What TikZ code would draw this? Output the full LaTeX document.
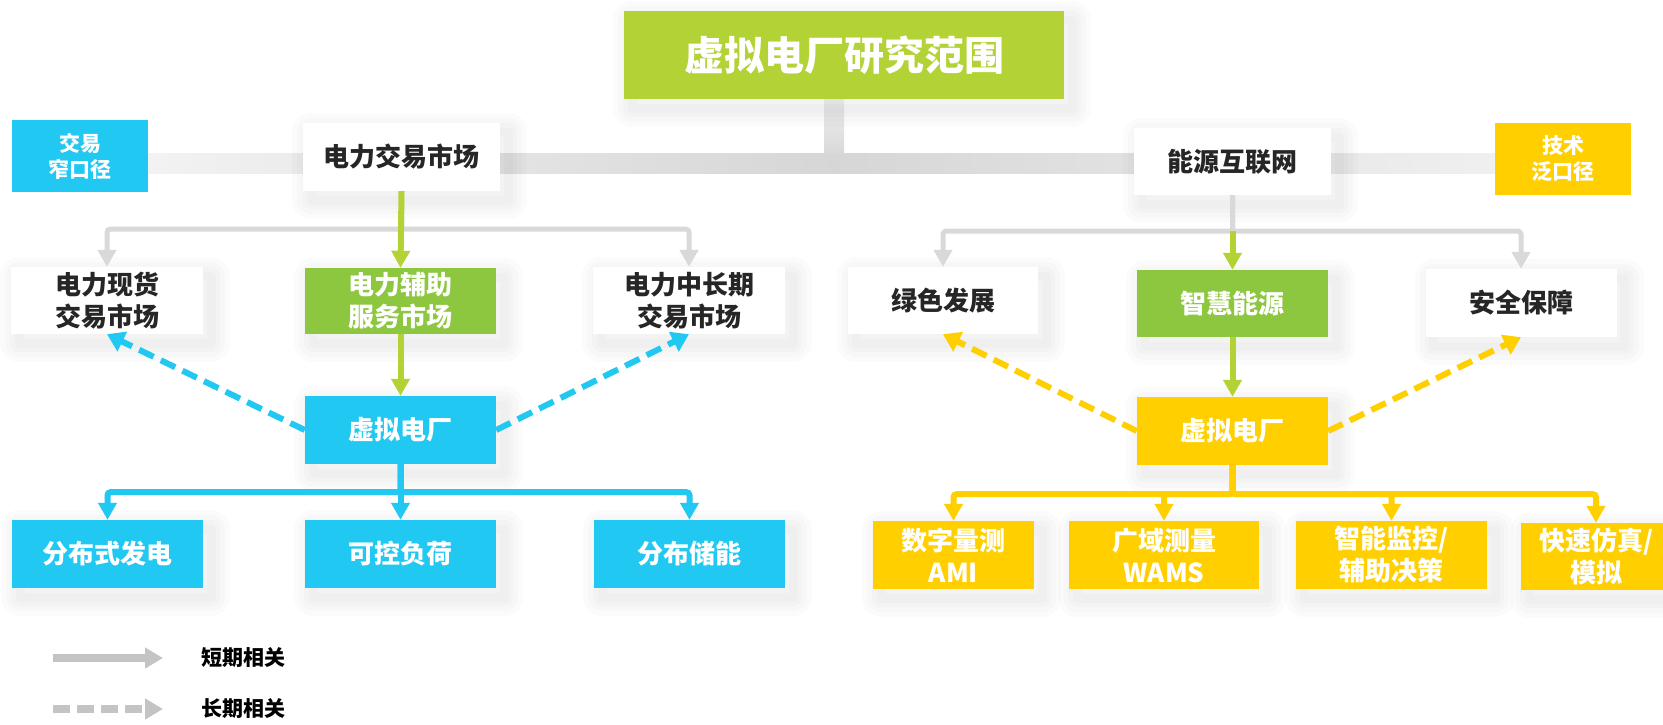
\documentclass[tikz,border=0pt]{standalone}
\usepackage{fontspec}
\setmainfont{Noto Sans CJK SC}
\usetikzlibrary{arrows.meta,shadows}

\definecolor{titlegreen}{RGB}{178,210,53}
\definecolor{boxgreen}{RGB}{141,198,63}
\definecolor{vppblue}{RGB}{33,200,242}
\definecolor{vppgold}{RGB}{255,207,0}
\definecolor{linegray}{RGB}{217,217,217}
\definecolor{legendgray}{RGB}{196,196,196}
\definecolor{textdark}{RGB}{38,38,38}

\tikzset{
  halo/.style={general shadow={shadow xshift=8pt, shadow yshift=-9pt, draw=black, draw opacity=.016, line width=#1, line join=round}},
  softshadow/.style={halo=38pt, halo=28pt, halo=18pt, halo=9pt},
  box/.style={rectangle, inner sep=0pt, minimum width=191pt, minimum height=67pt, align=center,
    font=\bfseries\fontsize{26}{32}\selectfont},
  whitebox/.style={box, softshadow, fill=white, text=textdark},
  greenbox/.style={box, softshadow, fill=boxgreen, text=white},
  bluebox/.style={box, softshadow, fill=vppblue, text=white},
  goldbox/.style={box, softshadow, fill=vppgold, text=white},
  tagbox/.style={box, minimum width=136pt, minimum height=72pt, text=white,
    font=\bfseries\fontsize{21}{26}\selectfont},
  tip/.style={-{Triangle[width=18pt,length=17pt]}},
  grayconn/.style={draw=linegray, line width=5pt, rounded corners=3pt, tip},
  greenconn/.style={draw=titlegreen, line width=6pt, tip},
  blueconn/.style={draw=vppblue, line width=6pt, rounded corners=3pt, tip},
  goldconn/.style={draw=vppgold, line width=6pt, rounded corners=3pt, tip},
  longdash/.style={line width=6pt, dash pattern=on 16pt off 8pt, -{Triangle[width=21pt,length=17pt]}},
  legendtext/.style={anchor=west, inner sep=0pt, text=black, font=\bfseries\fontsize{21}{26}\selectfont}
}

\begin{document}
\begin{tikzpicture}[x=1pt,y=-1pt]
  \useasboundingbox[fill=white] (0,0) rectangle (1663,724);

  % Backbone bar
  \shade[left color=black!5, right color=black!16] (148,153) rectangle (834,173);
  \shade[left color=black!16, right color=black!6] (834,153) rectangle (1495,173);
  \shade[top color=black!6, bottom color=black!15] (824,99) rectangle (844,153);

  % Top level
  \node[box, softshadow, fill=titlegreen, text=white, minimum width=440pt, minimum height=88pt,
    font=\bfseries\fontsize{40}{48}\selectfont] (title) at (844,55) {虚拟电厂研究范围};
  \node[tagbox, fill=vppblue] (narrow) at (80,156) {交易\\窄口径};
  \node[tagbox, fill=vppgold] (wide) at (1563,159) {技术\\泛口径};
  \node[whitebox, minimum width=197pt, minimum height=68pt] (market) at (401.5,157) {电力交易市场};
  \node[whitebox, minimum width=197pt] (energy) at (1232.5,161.5) {能源互联网};

  % Second level
  \node[whitebox, minimum width=192pt] (spot) at (107,300.5) {电力现货\\交易市场};
  \node[greenbox, minimum height=66pt] (aux) at (400.5,301) {电力辅助\\服务市场};
  \node[whitebox, minimum width=192pt] (longterm) at (689,300.5) {电力中长期\\交易市场};
  \node[whitebox, minimum width=190pt] (greendev) at (943,300.5) {绿色发展};
  \node[greenbox] (smart) at (1232.5,303.5) {智慧能源};
  \node[whitebox, minimum height=68pt] (safety) at (1521,303) {安全保障};

  % Virtual power plants
  \node[bluebox, minimum height=68pt] (vppL) at (400.5,430) {虚拟电厂};
  \node[goldbox, minimum height=68pt] (vppR) at (1232.5,431) {虚拟电厂};

  % Resources
  \node[bluebox, minimum height=68pt] (dg) at (107.5,554) {分布式发电};
  \node[bluebox, minimum height=68pt] (load) at (400.5,554) {可控负荷};
  \node[bluebox, minimum height=68pt] (storage) at (689.5,554) {分布储能};
  \node[goldbox, minimum width=161pt, minimum height=68pt] (ami) at (953.5,555) {数字量测\\AMI};
  \node[goldbox, minimum width=190pt, minimum height=68pt] (wams) at (1164,555) {广域测量\\WAMS};
  \node[goldbox, minimum height=68pt] (monitor) at (1391.5,555) {智能监控/\\辅助决策};
  \node[goldbox, minimum width=150pt] (sim) at (1596,556.5) {快速仿真/\\模拟};

  % Short-term links
  \draw[grayconn] (market.south) -- ++(0,38) -| (spot.north);
  \draw[grayconn] (market.south) -- ++(0,38) -| (longterm.north);
  \draw[greenconn] (market.south) -- (aux.north);
  \draw[grayconn] (energy.south) -- ++(0,36) -| (greendev.north);
  \draw[grayconn] (energy.south) -- ++(0,36) -| (safety.north);
  \draw[greenconn] (energy.south) ++(0,36) -- (smart.north);
  \draw[greenconn] (aux.south) -- (vppL.north);
  \draw[greenconn] (smart.south) -- (vppR.north);

  % Long-term links
  \draw[longdash, vppblue] (vppL.west) -- (spot.south);
  \draw[longdash, vppblue] (vppL.east) -- (longterm.south);
  \draw[longdash, vppgold] (vppR.west) -- (greendev.south);
  \draw[longdash, vppgold] (vppR.east) -- (safety.south);

  % Aggregated resources
  \draw[blueconn] (vppL.south) -- ++(0,28) -| (dg.north);
  \draw[blueconn] (vppL.south) -- (load.north);
  \draw[blueconn] (vppL.south) -- ++(0,28) -| (storage.north);
  \draw[goldconn] (vppR.south) -- ++(0,29) -| (ami.north);
  \draw[goldconn] (vppR.south) -- ++(0,29) -| (wams.north);
  \draw[goldconn] (vppR.south) -- ++(0,29) -| (monitor.north);
  \draw[goldconn] (vppR.south) -- ++(0,29) -| (sim.north);

  % Legend
  \coordinate (shortA) at (53,658);
  \coordinate (shortB) at (163,658);
  \coordinate (longA) at (53,709);
  \coordinate (longB) at (163,709);
  \draw[legendgray, line width=8pt, -{Triangle[width=20pt,length=18pt]}] (shortA) -- (shortB);
  \draw[legendgray, line width=8pt, dash pattern=on 17pt off 7pt, -{Triangle[width=20pt,length=18pt]}] (longA) -- (longB);
  \node[legendtext] (shortlbl) at (201,658) {短期相关};
  \node[legendtext] (longlbl) at (201,709) {长期相关};
\end{tikzpicture}
\end{document}
